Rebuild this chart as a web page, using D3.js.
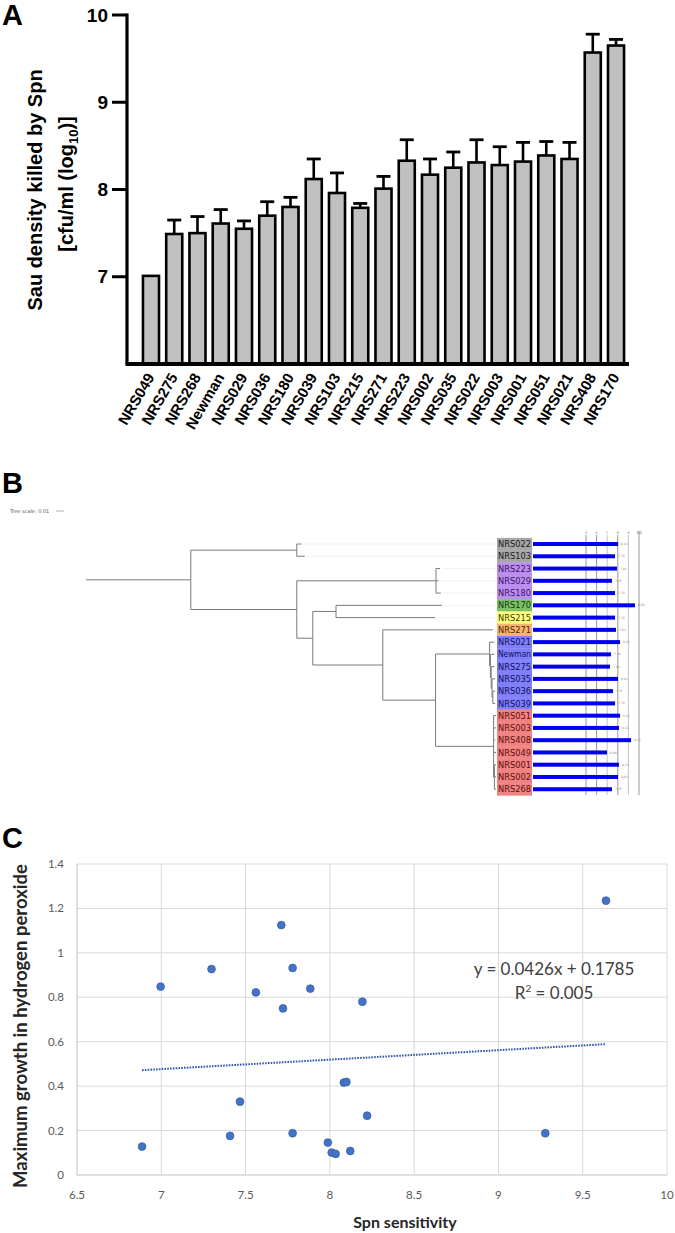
<!DOCTYPE html>
<html><head><meta charset="utf-8">
<script src="https://cdn.jsdelivr.net/npm/d3@7"></script>
<style>body{margin:0;background:#fff}svg{display:block}</style>
</head><body>
<script>
// ---------- Panel A data ----------
const barCategories = ["NRS049","NRS275","NRS268","Newman","NRS029","NRS036","NRS180","NRS039","NRS103","NRS215","NRS271","NRS223","NRS002","NRS035","NRS022","NRS003","NRS001","NRS051","NRS021","NRS408","NRS170"];
const barMeans = [7.01,7.49,7.50,7.61,7.55,7.70,7.80,8.12,7.96,7.79,8.01,8.33,8.17,8.25,8.31,8.28,8.32,8.39,8.35,9.57,9.65];
const barErrors = [0.00,0.16,0.19,0.16,0.09,0.16,0.11,0.23,0.23,0.05,0.14,0.24,0.18,0.18,0.26,0.21,0.22,0.16,0.19,0.21,0.07];
const aYTicks = [7,8,9,10];

// ---------- Panel B data ----------
const treeNewick = "(((NRS022:0.006,NRS103:0.010):0.1325,((NRS223:0.005,NRS029:0.003,NRS180:0.006):0.174,((NRS170:0.1325,NRS215:0.124):0.029,(NRS271:0.1375,((NRS021:0.006,(Newman:0.005,(NRS275:0.004,(NRS035:0.004,(NRS036:0.003,NRS039:0.003):0.001):0.001):0.001):0.001):0.0675,(NRS051:0.003,NRS003:0.003,NRS408:0.002,NRS049:0.003,(NRS001:0.002,NRS002:0.002,NRS268:0.002):0.001):0.0725):0.066):0.0875):0.02):0.1325):0.131);";
const treeRows = ["NRS022","NRS103","NRS223","NRS029","NRS180","NRS170","NRS215","NRS271","NRS021","Newman","NRS275","NRS035","NRS036","NRS039","NRS051","NRS003","NRS408","NRS049","NRS001","NRS002","NRS268"];
const treeGroups = ["gray","gray","purple","purple","purple","green","yellow","orange","blue","blue","blue","blue","blue","blue","red","red","red","red","red","red","red"];
const treeBarValues = [8.02,7.74,7.92,7.45,7.74,9.62,7.74,7.83,8.21,7.36,7.26,8.02,7.55,7.74,8.21,8.11,9.25,6.98,8.11,8.02,7.45];
const treeGridValues = [5,6,7,8,9,10];
const treeScaleValue = 0.01;

// ---------- Panel C data ----------
const spnSensitivity = [6.886,6.996,7.298,7.408,7.467,7.561,7.712,7.722,7.779,7.779,7.884,7.988,8.011,8.034,8.083,8.098,8.121,8.193,8.221,9.278,9.638];
const maxGrowth = [0.128,0.848,0.927,0.176,0.330,0.822,1.125,0.750,0.932,0.188,0.839,0.146,0.101,0.095,0.416,0.419,0.108,0.780,0.267,0.188,1.235];
const trendCoef = [0.0426, 0.1785]; // slope, intercept
const cXTicks = [6.5,7,7.5,8,8.5,9,9.5,10];
const cYTicks = [0,0.2,0.4,0.6,0.8,1,1.2,1.4];

const groupFill = {gray:"#a6a6a6",purple:"#bb8ef0",green:"#7cc063",yellow:"#ffff80",orange:"#f7b36e",blue:"#7f7ffa",red:"#f08282"};
const groupText = {gray:"#1a1a1a",purple:"#3d1466",green:"#103a10",yellow:"#3a3a00",orange:"#4a2800",blue:"#10105a",red:"#5c1010"};

const W = 675, H = 1233;
const svg = d3.select("body").append("svg").attr("width", W).attr("height", H);

// panel letters
const letterFont = "'Liberation Sans', Arial, sans-serif";
[["A",2,25],["B",2,493],["C",2,848]].forEach(([t,x,y]) => {
  svg.append("text").attr("x",x).attr("y",y).text(t)
    .attr("font-family",letterFont).attr("font-weight","bold").attr("font-size",29);
});

// ================= Panel A =================
(function(){
  const g = svg.append("g").attr("font-family", letterFont);
  const y = d3.scaleLinear().domain([6,10]).range([364,15]);
  const x = d3.scaleBand().domain(barCategories).range([139,628]).paddingInner(0.31).paddingOuter(0.17);
  // bars
  g.selectAll("rect.bar").data(barCategories).join("rect")
    .attr("x", d => x(d)).attr("width", x.bandwidth())
    .attr("y", (d,i) => y(barMeans[i])).attr("height", (d,i) => y(6) - y(barMeans[i]))
    .attr("fill","#c0c0c0").attr("stroke","#000").attr("stroke-width",2.6);
  // error bars
  const eb = g.selectAll("g.eb").data(barCategories).join("g");
  eb.filter((d,i)=>barErrors[i]>0).append("line")
    .attr("x1", d => x(d)+x.bandwidth()/2).attr("x2", d => x(d)+x.bandwidth()/2)
    .attr("y1", d => y(barMeans[barCategories.indexOf(d)]))
    .attr("y2", d => y(barMeans[barCategories.indexOf(d)] + barErrors[barCategories.indexOf(d)]))
    .attr("stroke","#000").attr("stroke-width",2.6);
  eb.filter((d,i)=>barErrors[i]>0).append("line")
    .attr("x1", d => x(d)+x.bandwidth()/2-7).attr("x2", d => x(d)+x.bandwidth()/2+7)
    .attr("y1", d => y(barMeans[barCategories.indexOf(d)] + barErrors[barCategories.indexOf(d)]))
    .attr("y2", d => y(barMeans[barCategories.indexOf(d)] + barErrors[barCategories.indexOf(d)]))
    .attr("stroke","#000").attr("stroke-width",2.8);
  // y axis
  g.append("line").attr("x1",127).attr("x2",127).attr("y1",y(10)-1.5).attr("y2",y(6)).attr("stroke","#000").attr("stroke-width",3.2);
  g.selectAll("line.yt").data(aYTicks).join("line")
    .attr("x1",112).attr("x2",127).attr("y1",d=>y(d)).attr("y2",d=>y(d)).attr("stroke","#000").attr("stroke-width",3);
  g.selectAll("text.yl").data(aYTicks).join("text")
    .attr("x",108).attr("y",d=>y(d)).attr("dy","0.35em").attr("text-anchor","end")
    .attr("font-weight","bold").attr("font-size",19).text(d=>d);
  // x axis
  g.append("line").attr("x1",125.5).attr("x2",629).attr("y1",y(6)).attr("y2",y(6)).attr("stroke","#000").attr("stroke-width",4);
  g.selectAll("text.xl").data(barCategories).join("text")
    .attr("transform", d => `translate(${x(d)+x.bandwidth()/2+4},${377}) rotate(-60)`)
    .attr("text-anchor","end").attr("font-weight","bold").attr("font-size",15).text(d=>d);
  // y title
  g.append("text").attr("transform","translate(42,190) rotate(-90)").attr("text-anchor","middle")
    .attr("font-weight","bold").attr("font-size",20).text("Sau density killed by Spn");
  const t2 = g.append("text").attr("transform","translate(72.5,184) rotate(-90)").attr("text-anchor","middle")
    .attr("font-weight","bold").attr("font-size",20);
  t2.append("tspan").text("[cfu/ml (log");
  t2.append("tspan").attr("font-size",13).attr("dy",5).text("10");
  t2.append("tspan").attr("dy",-5).text(")]");
})();

// ================= Panel B =================
(function(){
  const g = svg.append("g");
  // parse newick
  function parseNewick(s){
    let i = 0;
    function node(){
      const n = {children:[]};
      if (s[i] === "("){
        i++;
        n.children.push(node());
        while (s[i] === ","){ i++; n.children.push(node()); }
        i++; // ')'
      }
      let name = "";
      while (i < s.length && !":,();".includes(s[i])) name += s[i++];
      n.name = name;
      let len = "";
      if (s[i] === ":"){ i++; while (i < s.length && !",();".includes(s[i])) len += s[i++]; }
      n.length = len ? +len : 0;
      if (!n.children.length) delete n.children;
      return n;
    }
    return node();
  }
  const root = d3.hierarchy(parseNewick(treeNewick));
  const tx = d3.scaleLinear().domain([0,0.5]).range([86,486]);
  const rows = d3.scaleBand().domain(treeRows).range([537.9, 537.9 + 12.26*treeRows.length]);
  root.each(n => { n.dist = (n.parent ? n.parent.dist : 0) + n.data.length; });
  root.eachAfter(n => {
    if (n.children) n.yy = (n.children[0].yy + n.children[n.children.length-1].yy)/2;
    else n.yy = rows(n.data.name) + rows.bandwidth()/2;
  });
  const lineCol = "#7a7a7a";
  // faint leader lines
  root.leaves().forEach(l => {
    if (tx(l.dist) < 480) g.append("line").attr("x1",tx(l.dist)+2).attr("x2",496).attr("y1",l.yy).attr("y2",l.yy)
      .attr("stroke","#eeeeee").attr("stroke-width",0.8);
  });
  root.descendants().forEach(n => {
    if (n.parent) g.append("line").attr("x1",tx(n.parent.dist)).attr("x2",tx(n.dist)).attr("y1",n.yy).attr("y2",n.yy)
      .attr("stroke",lineCol).attr("stroke-width",1);
    if (n.children && n.children.length > 1) g.append("line").attr("x1",tx(n.dist)).attr("x2",tx(n.dist))
      .attr("y1",n.children[0].yy).attr("y2",n.children[n.children.length-1].yy)
      .attr("stroke",lineCol).attr("stroke-width",1);
  });
  // tree scale
  g.append("text").attr("x",10).attr("y",513).attr("font-family","'DejaVu Sans', sans-serif").attr("font-size",5)
    .attr("fill","#555").text("Tree scale: " + treeScaleValue);
  g.append("line").attr("x1",56).attr("x2",56 + tx(treeScaleValue) - tx(0)).attr("y1",511).attr("y2",511)
    .attr("stroke","#999").attr("stroke-width",0.8);
  // label boxes
  g.selectAll("rect.lb").data(treeRows).join("rect")
    .attr("x",497).attr("width",35).attr("y",d=>rows(d)).attr("height",rows.bandwidth()+0.3)
    .attr("fill",(d,i)=>groupFill[treeGroups[i]]);
  g.selectAll("text.lt").data(treeRows).join("text")
    .attr("x",498).attr("y",d=>rows(d)+rows.bandwidth()/2).attr("dy","0.36em")
    .attr("font-family","'DejaVu Sans', Verdana, sans-serif").attr("font-size",8.6)
    .attr("textLength",33).attr("lengthAdjust","spacingAndGlyphs")
    .attr("fill",(d,i)=>groupText[treeGroups[i]]).text(d=>d);
  // bar chart
  const bx = d3.scaleLinear().domain([0,10]).range([533,639]);
  g.selectAll("line.gl").data(treeGridValues).join("line")
    .attr("x1",d=>bx(d)).attr("x2",d=>bx(d)).attr("y1",d=>d===10?531:535).attr("y2",795)
    .attr("stroke",(d)=> (d===7||d===9) ? "#bdbdbd" : "#8c8c8c").attr("stroke-width",0.9);
  g.selectAll("text.gt").data(treeGridValues).join("text")
    .attr("x",d=>bx(d)).attr("y",534).attr("text-anchor","middle")
    .attr("font-family","'DejaVu Sans', sans-serif").attr("font-size",d=>d===10?4.5:3.5).attr("fill","#777").text(d=>d);
  g.selectAll("rect.tb").data(treeRows).join("rect")
    .attr("x",bx(0)).attr("width",(d,i)=>bx(treeBarValues[i])-bx(0))
    .attr("y",d=>rows(d)+rows.bandwidth()/2-2).attr("height",4)
    .attr("fill","#0000f0");
  g.selectAll("text.tv").data(treeRows).join("text")
    .attr("x",(d,i)=>bx(treeBarValues[i])+3).attr("y",d=>rows(d)+rows.bandwidth()/2).attr("dy","0.35em")
    .attr("font-family","'DejaVu Sans', sans-serif").attr("font-size",3).attr("fill","#888")
    .text((d,i)=>treeBarValues[i].toFixed(2));
})();

// ================= Panel C =================
(function(){
  const g = svg.append("g").attr("font-family","Lato, 'Open Sans', sans-serif");
  const x = d3.scaleLinear().domain([6.5,10]).range([77,667]);
  const y = d3.scaleLinear().domain([0,1.4]).range([1175,864]);
  g.selectAll("line.hg").data(cYTicks).join("line")
    .attr("x1",x(6.5)).attr("x2",x(10)).attr("y1",d=>y(d)).attr("y2",d=>y(d))
    .attr("stroke",d=>d===0?"#bfbfbf":"#d9d9d9").attr("stroke-width",1);
  g.selectAll("line.vg").data(cXTicks).join("line")
    .attr("x1",d=>x(d)).attr("x2",d=>x(d)).attr("y1",y(0)).attr("y2",y(1.4))
    .attr("stroke",d=>d===6.5?"#bfbfbf":"#d9d9d9").attr("stroke-width",1);
  g.selectAll("text.yl").data(cYTicks).join("text")
    .attr("x",64).attr("y",d=>y(d)).attr("dy","0.35em").attr("text-anchor","end")
    .attr("font-size",11.5).attr("fill","#595959").text(d=>d);
  g.selectAll("text.xl").data(cXTicks).join("text")
    .attr("x",d=>x(d)).attr("y",1199).attr("text-anchor","middle")
    .attr("font-size",11.5).attr("fill","#595959").text(d=>d);
  // trendline
  const xmin = d3.min(spnSensitivity), xmax = d3.max(spnSensitivity);
  g.append("line").attr("x1",x(xmin)).attr("x2",x(xmax))
    .attr("y1",y(trendCoef[0]*xmin+trendCoef[1])).attr("y2",y(trendCoef[0]*xmax+trendCoef[1]))
    .attr("stroke","#2f57aa").attr("stroke-width",2).attr("stroke-dasharray","1.6,1.2");
  // points
  g.selectAll("circle").data(spnSensitivity).join("circle")
    .attr("cx",d=>x(d)).attr("cy",(d,i)=>y(maxGrowth[i])).attr("r",3.9)
    .attr("fill","#4472c4").attr("stroke","#3b63ad").attr("stroke-width",0.8);
  // equation
  g.append("text").attr("x",554).attr("y",975).attr("text-anchor","middle").attr("font-size",17).attr("fill","#404040")
    .text(`y = ${trendCoef[0]}x + ${trendCoef[1]}`);
  const r2 = g.append("text").attr("x",554).attr("y",999).attr("text-anchor","middle").attr("font-size",17).attr("fill","#404040");
  r2.append("tspan").text("R");
  r2.append("tspan").attr("font-size",10).attr("dy",-7).text("2");
  r2.append("tspan").attr("dy",7).text(" = 0.005");
  // titles
  g.append("text").attr("x",405).attr("y",1228).attr("text-anchor","middle").attr("font-size",16).attr("font-weight","bold")
    .attr("fill","#262626").text("Spn sensitivity");
  g.append("text").attr("transform","translate(27,1026) rotate(-90)").attr("text-anchor","middle").attr("font-size",18.5)
    .attr("font-weight","bold").attr("fill","#262626").text("Maximum growth in hydrogen peroxide");
})();
</script>
</body></html>
